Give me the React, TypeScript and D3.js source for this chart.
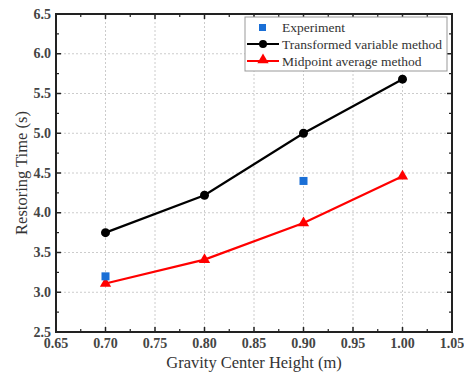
import React from "react";
import * as d3 from "d3";

// data
const heights = [0.7, 0.8, 0.9, 1.0];
const transformedValues = [3.75, 4.22, 5.0, 5.68];
const midpointValues = [3.11, 3.41, 3.87, 4.46];
const experimentX = [0.7, 0.9];
const experimentValues = [3.2, 4.4];
const xTicks = [0.65, 0.7, 0.75, 0.8, 0.85, 0.9, 0.95, 1.0, 1.05];
const yTicks = [2.5, 3.0, 3.5, 4.0, 4.5, 5.0, 5.5, 6.0, 6.5];

const W = 464;
const H = 381;
const left = 56;
const right = 452;
const top = 14;
const bottom = 332;
const serif = "'Liberation Serif', 'Times New Roman', serif";

const App = () => {
  const x = d3.scaleLinear().domain([0.65, 1.05]).range([left, right]);
  const y = d3.scaleLinear().domain([2.5, 6.5]).range([bottom, top]);

  const line = d3
    .line<[number, number]>()
    .x((d) => x(d[0]))
    .y((d) => y(d[1]));

  const transformed = heights.map((h, i) => [h, transformedValues[i]] as [number, number]);
  const midpoint = heights.map((h, i) => [h, midpointValues[i]] as [number, number]);

  const minorX = xTicks.slice(0, -1).map((t) => t + 0.025);
  const minorY = yTicks.slice(0, -1).map((t) => t + 0.25);

  const tri = d3.symbol().type(d3.symbolTriangle).size(55)();
  const tickStyle = { fontFamily: serif, fontSize: 14, fontWeight: 600 as const };
  const textStyle = { fontFamily: serif, fontSize: 13.5 };

  return (
    <svg
      width={W}
      height={H}
      style={{ position: "absolute", left: 0, top: 0, background: "#fff", fontFamily: serif }}
    >
      {/* grid */}
      {xTicks.slice(1, -1).map((t) => (
        <line key={"gx" + t} x1={x(t)} x2={x(t)} y1={top} y2={bottom} stroke="#ccc" strokeDasharray="2,2" />
      ))}
      {yTicks.slice(1, -1).map((t) => (
        <line key={"gy" + t} x1={left} x2={right} y1={y(t)} y2={y(t)} stroke="#ccc" strokeDasharray="2,2" />
      ))}

      {/* ticks, inward on all sides */}
      {xTicks.map((t) => (
        <g key={"tx" + t}>
          <line x1={x(t)} x2={x(t)} y1={bottom} y2={bottom - 5} stroke="#222" strokeWidth={1.5} />
          <line x1={x(t)} x2={x(t)} y1={top} y2={top + 5} stroke="#222" strokeWidth={1.5} />
          <text x={x(t)} y={bottom + 16} textAnchor="middle" style={tickStyle} fill="#444">
            {t.toFixed(2)}
          </text>
        </g>
      ))}
      {minorX.map((t) => (
        <g key={"mx" + t}>
          <line x1={x(t)} x2={x(t)} y1={bottom} y2={bottom - 3} stroke="#222" strokeWidth={1.2} />
          <line x1={x(t)} x2={x(t)} y1={top} y2={top + 3} stroke="#222" strokeWidth={1.2} />
        </g>
      ))}
      {yTicks.map((t) => (
        <g key={"ty" + t}>
          <line x1={left} x2={left + 5} y1={y(t)} y2={y(t)} stroke="#222" strokeWidth={1.5} />
          <line x1={right} x2={right - 5} y1={y(t)} y2={y(t)} stroke="#222" strokeWidth={1.5} />
          <text x={left - 5} y={y(t) + 4.5} textAnchor="end" style={tickStyle} fill="#444">
            {t.toFixed(1)}
          </text>
        </g>
      ))}
      {minorY.map((t) => (
        <g key={"my" + t}>
          <line x1={left} x2={left + 3} y1={y(t)} y2={y(t)} stroke="#222" strokeWidth={1.2} />
          <line x1={right} x2={right - 3} y1={y(t)} y2={y(t)} stroke="#222" strokeWidth={1.2} />
        </g>
      ))}

      {/* frame */}
      <rect x={left} y={top} width={right - left} height={bottom - top} fill="none" stroke="#222" strokeWidth={2} />

      {/* series */}
      <path d={line(transformed) ?? ""} fill="none" stroke="#000" strokeWidth={2.2} />
      {transformed.map((d, i) => (
        <circle key={"c" + i} cx={x(d[0])} cy={y(d[1])} r={4.5} fill="#000" />
      ))}
      <path d={line(midpoint) ?? ""} fill="none" stroke="#f00" strokeWidth={2.2} />
      {midpoint.map((d, i) => (
        <path key={"t" + i} d={tri ?? ""} transform={`translate(${x(d[0])},${y(d[1])})`} fill="#f00" />
      ))}
      {experimentX.map((h, i) => (
        <rect key={"e" + i} x={x(h) - 4} y={y(experimentValues[i]) - 4} width={8} height={8} fill="#1a6fd6" />
      ))}

      {/* legend */}
      <rect x={245} y={17} width={202} height={54} fill="#fff" stroke="#999" strokeWidth={1} />
      <rect x={259} y={24} width={7} height={7} fill="#1a6fd6" />
      <text x={282} y={32} style={textStyle} fill="#333">Experiment</text>
      <line x1={247} x2={279} y1={44} y2={44} stroke="#000" strokeWidth={2} />
      <circle cx={263} cy={44} r={4} fill="#000" />
      <text x={282} y={48.5} style={textStyle} fill="#333">Transformed variable method</text>
      <line x1={247} x2={279} y1={61} y2={61} stroke="#f00" strokeWidth={2} />
      <path d={tri ?? ""} transform={`translate(263,60)`} fill="#f00" />
      <text x={282} y={65.5} style={textStyle} fill="#333">Midpoint average method</text>

      {/* axis titles */}
      <text x={(left + right) / 2} y={368} textAnchor="middle" style={{ fontFamily: serif, fontSize: 16.5 }} fill="#333">
        Gravity Center Height (m)
      </text>
      <text
        transform={`translate(27,${(top + bottom) / 2}) rotate(-90)`}
        textAnchor="middle"
        style={{ fontFamily: serif, fontSize: 16.5 }}
        fill="#333"
      >
        Restoring Time (s)
      </text>
    </svg>
  );
};

export default App;
